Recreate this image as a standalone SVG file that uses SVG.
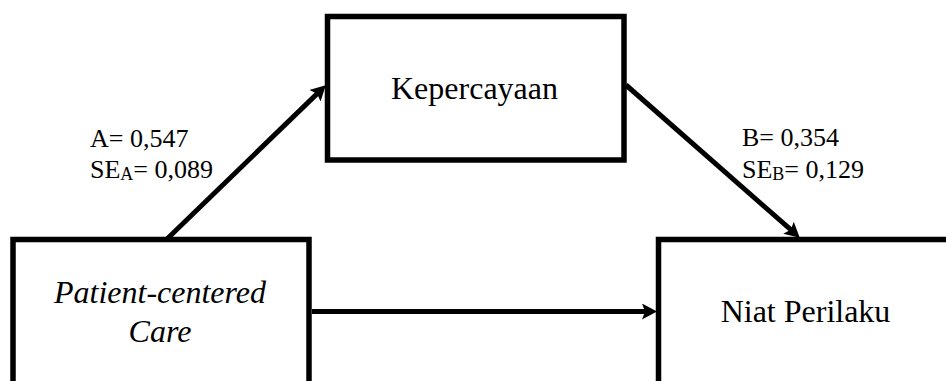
<svg xmlns="http://www.w3.org/2000/svg" width="946" height="381" viewBox="0 0 946 381">
  <defs>
    <marker id="arrow" markerUnits="userSpaceOnUse" markerWidth="15" markerHeight="16" refX="6" refY="8" orient="auto" viewBox="0 0 15 16">
      <path d="M0,0 L15,8 L0,16 L3,8 z" fill="#000000"/>
    </marker>
  </defs>
  <rect width="946" height="381" fill="#ffffff"/>

  <g id="node-kepercayaan">
    <rect x="327.5" y="16.5" width="296.5" height="143.5" fill="#ffffff" stroke="#000000" stroke-width="5.5"/>
    <text x="474.5" y="99" font-family="Liberation Serif" font-size="32" text-anchor="middle">Kepercayaan</text>
  </g>

  <g id="node-patient-centered-care">
    <rect x="13" y="239.5" width="296" height="170" fill="#ffffff" stroke="#000000" stroke-width="5.5"/>
    <text x="160" y="303" font-family="Liberation Serif" font-size="32" font-style="italic" text-anchor="middle">Patient-centered</text>
    <text x="160" y="342" font-family="Liberation Serif" font-size="32" font-style="italic" text-anchor="middle">Care</text>
  </g>

  <g id="node-niat-perilaku">
    <rect x="658.5" y="239.5" width="310" height="170" fill="#ffffff" stroke="#000000" stroke-width="5.5"/>
    <text x="805.5" y="322" font-family="Liberation Serif" font-size="32" text-anchor="middle">Niat Perilaku</text>
  </g>

  <g id="connectors" stroke="#000000" stroke-width="5" fill="none">
    <line x1="167" y1="239" x2="319.3" y2="91.6" marker-end="url(#arrow)"/>
    <line x1="626" y1="85" x2="793" y2="231.7" marker-end="url(#arrow)"/>
    <line x1="312" y1="311.5" x2="648" y2="311.5" marker-end="url(#arrow)"/>
  </g>

  <g id="labels">
    <text x="90" y="147" font-family="Liberation Serif" font-size="26">A= 0,547</text>
    <text x="90" y="178" font-family="Liberation Serif" font-size="26">SE<tspan dy="2" font-size="18">A</tspan><tspan dy="-2">= 0,089</tspan></text>
    <text x="742" y="146" font-family="Liberation Serif" font-size="26">B= 0,354</text>
    <text x="742" y="178" font-family="Liberation Serif" font-size="26">SE<tspan dy="2" font-size="18">B</tspan><tspan dy="-2">= 0,129</tspan></text>
  </g>
</svg>
